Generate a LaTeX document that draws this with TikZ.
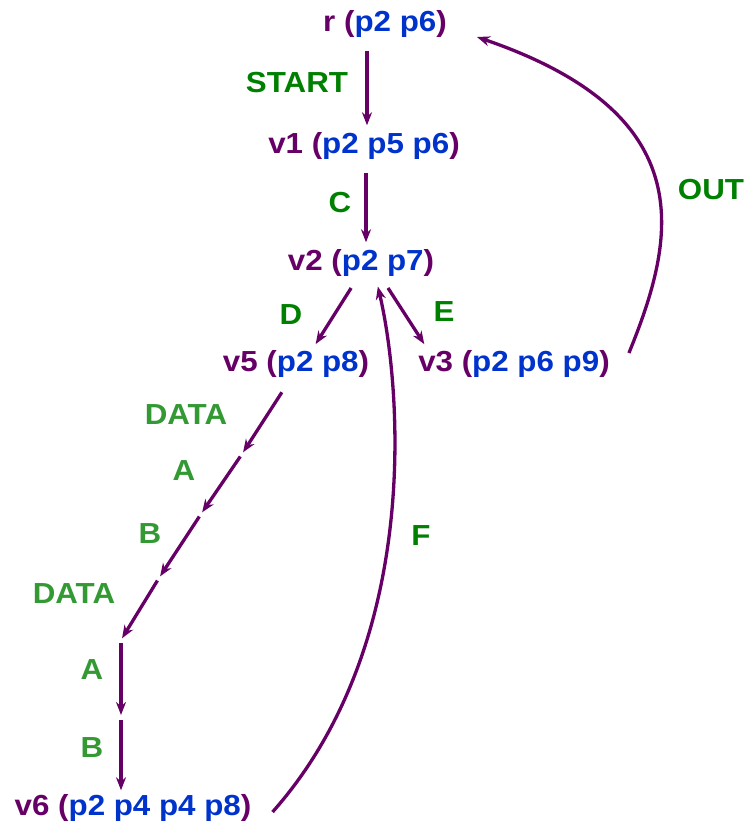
\documentclass[tikz,border=0pt]{standalone}
\usepackage{fontspec}
\setmainfont{Liberation Sans}[FakeStretch=1.08]
\usepackage{tikz}
\usetikzlibrary{arrows.meta}
\definecolor{nodepurple}{RGB}{102,0,102}
\definecolor{pathblue}{RGB}{0,51,204}
\definecolor{eventgreen}{RGB}{0,128,0}
\definecolor{msggreen}{RGB}{51,153,51}
\newcommand{\pset}[1]{\textcolor{pathblue}{#1}}

\begin{document}
\begin{tikzpicture}[x=1pt, y=-1pt, >={Stealth[length=13pt,width=10pt]},
			state_style/.style={inner sep=2pt, text=nodepurple, font=\bfseries\fontsize{29}{32}\selectfont},
			edge_style/.style={line width=3.3pt, nodepurple, ->, shorten <=11pt, shorten >=5pt},
			chain_style/.style={line width=3.3pt, nodepurple, ->, shorten <=3pt, shorten >=2pt},
			event_style/.style={text=eventgreen, font=\bfseries\fontsize{29}{32}\selectfont},
			msg_style/.style={text=msggreen, font=\bfseries\fontsize{29}{32}\selectfont}]
			\useasboundingbox (0,0) rectangle (746,830);
			
			\node[state_style] (r) at (385,24) {r (\pset{p2 p6})};
			\node[state_style] (v1) at (364,146) {v1 (\pset{p2 p5 p6})};
			\node[state_style] (v2) at (361,263) {v2 (\pset{p2 p7})};
			\node[state_style] (v5) at (296,364) {v5 (\pset{p2 p8})};
			\node[state_style] (v3) at (514,364) {v3 (\pset{p2 p6 p9})};
			\node[state_style] (v6) at (133,808) {v6 (\pset{p2 p4 p4 p8})};
			
			\coordinate (c1) at (242,454);
			\coordinate (c2) at (201,514);
			\coordinate (c3) at (159,578);
			\coordinate (c4) at (121,640);
			\coordinate (c5) at (121,717);
			
			\draw[edge_style] ([xshift=3]r.south -| v1.north) -- ([xshift=3]v1.north);
			\draw[edge_style] ([xshift=2]v1.south) -- ([xshift=2]v1.south |- v2.north);
			\draw[edge_style] ([xshift=-4]v2.south) -- ([xshift=17]v5.north);
			\draw[edge_style] ([xshift=21]v2.south) -- ([xshift=-87]v3.north);
			
			\draw[chain_style, shorten <=15pt] ([xshift=-6]v5.south) -- (c1);
			\draw[chain_style] (c1) -- (c2);
			\draw[chain_style] (c2) -- (c3);
			\draw[chain_style] (c3) -- (c4);
			\draw[chain_style] (c4) -- (c5);
			\draw[chain_style] (c5) -- (c5 |- v6.north);
			
			\draw[edge_style, shorten <=0pt, shorten >=8pt] ([xshift=19,yshift=-4]v6.east) .. controls (425,640) and (400,380) .. ([xshift=15]v2.south);
			\draw[edge_style, shorten <=0pt, shorten >=0pt] ([xshift=17,yshift=11]v3.east) .. controls (675,240) and (705,115) .. ([xshift=28,yshift=-13]r.east);
			
			\node[event_style] (lstart) at (297,83) {START};
			\node[event_style] (lc) at (340,203) {C};
			\node[event_style] (ld) at (291,315) {D};
			\node[event_style] (le) at (444,312) {E};
			\node[event_style] (lf) at (421,536) {F};
			\node[event_style] (lout) at (711,190) {OUT};
			
			\node[msg_style] (ldata1) at (186,415) {DATA};
			\node[msg_style] (la1) at (184,471) {A};
			\node[msg_style] (lb1) at (150,534) {B};
			\node[msg_style] (ldata2) at (74,594) {DATA};
			\node[msg_style] (la2) at (92,670) {A};
			\node[msg_style] (lb2) at (92,748) {B};
		\end{tikzpicture}
\end{document}
